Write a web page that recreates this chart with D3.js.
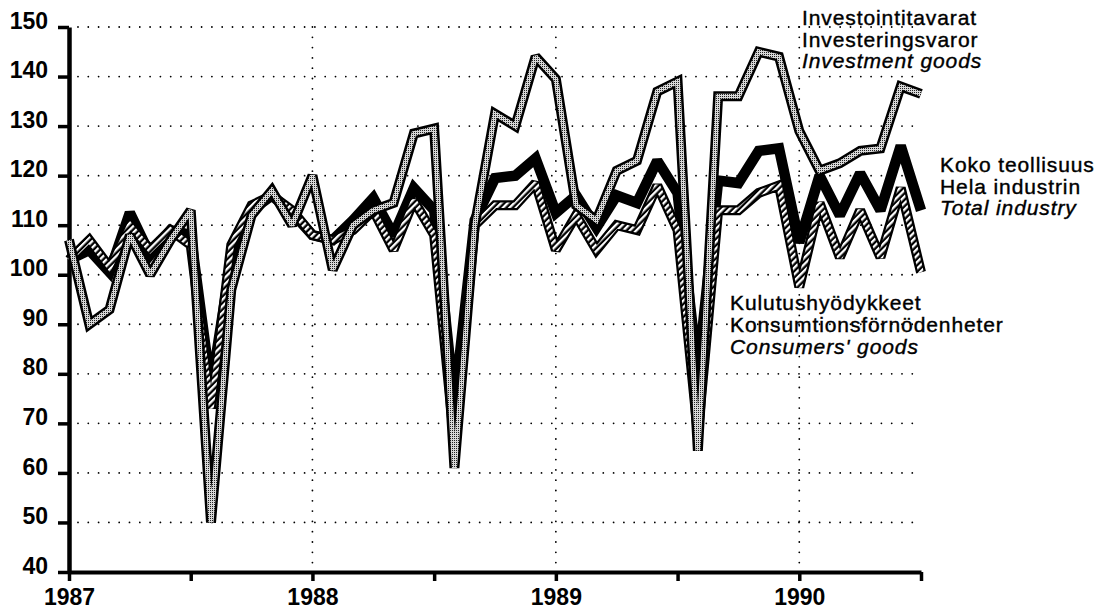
<!DOCTYPE html>
<html><head><meta charset="utf-8">
<script src="https://cdn.jsdelivr.net/npm/d3@7"></script>
<style>
body{margin:0;background:#fff}
svg{display:block}
text{font-family:"Liberation Sans",Arial,Helvetica,sans-serif;fill:#000}
</style>
</head><body>
<svg id="c" width="1114" height="611"></svg>
<script>
// ---- data (monthly, Jan 1987 – Jul 1990) ----
const yearLabels = ["1987", "1988", "1989", "1990"];
const yTicks = [40, 50, 60, 70, 80, 90, 100, 110, 120, 130, 140, 150];

const investment = [107, 90, 93, 108, 100, 107, 113, 50, 97, 112, 117, 110,
                    120, 101, 110, 113, 114.5, 128.5, 129.5, 61, 110, 132.5, 130, 144,
                    139.5, 114, 111, 121, 123, 137, 139, 64.5, 136, 136, 145, 144,
                    129, 121, 122.5, 125, 125.5, 138, 136.5];
const total = [103, 105, 100.5, 112.5, 104, 109, 108, 77, 103, 113, 116, 112.5,
               108, 107, 111, 115.5, 108, 117.5, 113, 74, 111, 119.5, 120, 123.5,
               112.5, 116, 109.5, 116, 114.5, 123, 116.5, 80, 119, 118.5, 125, 125.5,
               106.5, 120, 112, 120.5, 113, 126, 113];
const consumer = [103, 107, 101.5, 110, 105, 109, 106, 73, 106, 114, 116, 113,
                  108, 107, 109, 113, 105, 115, 108, 66, 110, 114, 114, 118.5,
                  105, 112, 105, 110, 109, 118, 109, 68, 113, 113, 116.5, 118,
                  97.5, 114.5, 103.5, 113, 103.5, 117.5, 100.5];

const legendInvestment = ["Investointitavarat", "Investeringsvaror", "Investment goods"];
const legendTotal = ["Koko teollisuus", "Hela industrin", "Total industry"];
const legendConsumer = ["Kulutushyödykkeet", "Konsumtionsförnödenheter", "Consumers' goods"];

// ---- scales ----
const nMonths = investment.length; // 43
const x = d3.scaleLinear().domain([0, nMonths - 1]).range([69, 921]);
const y = d3.scaleLinear().domain([40, 150]).range([572, 27]);

const svg = d3.select("#c");
const defs = svg.append("defs");

// stipple (grey) pattern
const st = defs.append("pattern").attr("id", "stipple").attr("patternUnits", "userSpaceOnUse")
  .attr("width", 2).attr("height", 2);
st.append("rect").attr("width", 2).attr("height", 2).attr("fill", "#d8d8d8");
st.append("rect").attr("width", 1).attr("height", 1).attr("fill", "#222");

// diagonal hatch pattern
const ht = defs.append("pattern").attr("id", "hatch").attr("patternUnits", "userSpaceOnUse")
  .attr("width", 4.6).attr("height", 4.6).attr("patternTransform", "rotate(45)");
ht.append("rect").attr("width", 4.6).attr("height", 4.6).attr("fill", "#000");
ht.append("rect").attr("width", 2.3).attr("height", 4.6).attr("fill", "#fff");

// ---- grid ----
const grid = svg.append("g");
grid.selectAll("line.h").data(yTicks.filter(v => v > 40)).join("line")
  .attr("class", "h")
  .attr("x1", 78).attr("x2", 921)
  .attr("y1", d => y(d)).attr("y2", d => y(d))
  .attr("stroke", "#000").attr("stroke-width", 1.8)
  .attr("stroke-linecap", "round").attr("stroke-dasharray", "0 10.3");
grid.selectAll("line.v").data([12, 24, 36]).join("line")
  .attr("class", "v")
  .attr("x1", d => x(d)).attr("x2", d => x(d))
  .attr("y1", y(150)).attr("y2", y(40) - 4)
  .attr("stroke", "#000").attr("stroke-width", 1.8)
  .attr("stroke-linecap", "round").attr("stroke-dasharray", "0 10.3");

// ---- axes ----
const yAxis = d3.axisLeft(y).tickValues(yTicks).tickSize(11).tickSizeOuter(0).tickPadding(10);
const gy = svg.append("g").attr("transform", `translate(${x(0)},0)`).call(yAxis);
gy.select(".domain").attr("stroke-width", 4.5);
gy.selectAll(".tick line").attr("stroke-width", 3.5);
gy.selectAll(".tick text").attr("font-size", 23).attr("font-weight", "bold")
  .attr("dy", "0.05em").attr("fill", "#000");

const xAxis = d3.axisBottom(x).tickValues([0, 6, 12, 18, 24, 30, 36, 42])
  .tickSize(9).tickSizeOuter(0).tickPadding(8)
  .tickFormat(d => d % 12 === 0 ? yearLabels[d / 12] : "");
const gx = svg.append("g").attr("transform", `translate(0,${y(40)})`).call(xAxis);
gx.select(".domain").attr("stroke-width", 4);
gx.selectAll(".tick line").attr("stroke-width", 3.5);
gx.selectAll(".tick text").attr("font-size", 23).attr("font-weight", "bold").attr("fill", "#000");
svg.selectAll(".domain").attr("stroke", "#000");

// ---- lines ----
const line = d3.line().x((d, i) => x(i)).y(d => y(d));
const lines = svg.append("g").attr("fill", "none")
  .attr("stroke-linejoin", "miter").attr("stroke-miterlimit", 2).attr("stroke-linecap", "butt");

lines.append("path").datum(total).attr("d", line).attr("stroke", "#000").attr("stroke-width", 10.5);

lines.append("path").datum(consumer).attr("d", line).attr("stroke", "#000").attr("stroke-width", 10);
lines.append("path").datum(consumer).attr("d", line).attr("stroke", "url(#hatch)").attr("stroke-width", 5.5);

lines.append("path").datum(investment).attr("d", line).attr("stroke", "#000").attr("stroke-width", 10);
lines.append("path").datum(investment).attr("d", line).attr("stroke", "url(#stipple)").attr("stroke-width", 5);

// ---- legend labels ----
function label(lines, x0, y0, dy) {
  const g = svg.append("g");
  g.selectAll("text").data(lines).join("text")
    .attr("x", x0).attr("y", (d, i) => y0 + i * dy)
    .attr("font-size", 21).attr("letter-spacing", 0.9)
    .attr("font-style", (d, i) => i === 2 ? "italic" : "normal")
    .attr("stroke", "#000").attr("stroke-width", 0.4)
    .text(d => d);
}
label(legendInvestment, 802, 25, 21.5);
label(legendTotal, 940, 172, 21.5);
label(legendConsumer, 730, 310, 22);
</script>
</body></html>
